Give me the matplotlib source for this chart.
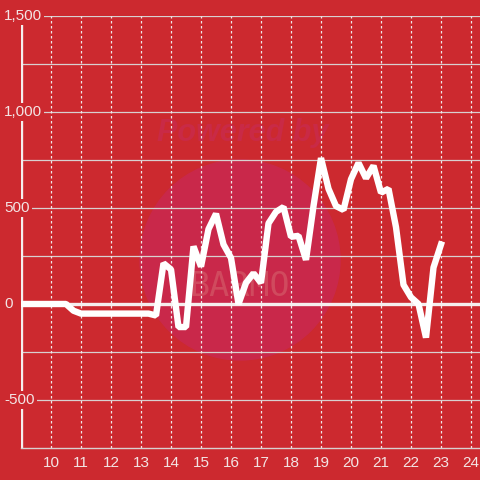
import matplotlib
matplotlib.use("Agg")
import matplotlib.pyplot as plt
import matplotlib.transforms as mtransforms
import numpy as np

# hour of day and value
hours = [9.0, 9.25, 9.5, 9.75, 10.0, 10.25, 10.5, 10.75, 11.0, 11.25, 11.5, 11.75,
         12.0, 12.25, 12.5, 12.75, 13.0, 13.25, 13.5, 13.75, 14.0, 14.25, 14.5, 14.75,
         15.0, 15.25, 15.5, 15.75, 16.0, 16.25, 16.5, 16.75, 17.0, 17.25, 17.5, 17.75,
         18.0, 18.25, 18.5, 18.75, 19.0, 19.25, 19.5, 19.75, 20.0, 20.25, 20.5, 20.75,
         21.0, 21.25, 21.5, 21.75, 22.0, 22.25, 22.5, 22.75, 23.0]
values = [0, 0, 0, 0, 0, 0, 0, -35, -50, -50, -50, -50,
          -50, -50, -50, -50, -50, -50, -60, 212, 180, -120, -120, 300,
          195, 390, 470, 310, 240, 0, 110, 160, 110, 420, 480, 505,
          350, 355, 230, 510, 760, 600, 510, 490, 650, 735, 655, 720,
          580, 600, 400, 100, 35, 0, -175, 190, 310]

x_ticks = list(range(10, 25))
y_labels = [1500, 1000, 500, 0, -500]
y_grid = np.arange(-500, 1501, 250)

bg = "#cc292f"
txt = "#f3e4e4"
grid = "#d8d0d0"

fig = plt.figure(figsize=(4.8, 4.8), dpi=100, facecolor=bg)
ax = fig.add_axes([21 / 480, 32 / 480, 459 / 480, 432 / 480], facecolor=bg)
ax.set_xlim(9, 24.3)
ax.set_ylim(-750, 1500)

# watermark (under everything in the axes)
circ = plt.Circle((240 / 480, 1 - 260 / 480), 100 / 480, transform=fig.transFigure,
                  color="#c9284a", zorder=0.5, clip_on=False)
ax.add_patch(circ)
ax.text(243 / 480, 1 - 133 / 480, "Powered by", transform=fig.transFigure,
        ha="center", va="center", fontsize=22, fontweight="bold", style="italic",
        color="#c92a46", family="Liberation Sans", zorder=0.5)
ax.text(240 / 480, 1 - 287 / 480, "BARMO", transform=fig.transFigure,
        ha="center", va="center", fontsize=24, color="#d04a5e",
        family="DejaVu Sans Mono", zorder=0.6)

for s in ["top", "right", "left"]:
    ax.spines[s].set_visible(False)
ax.spines["bottom"].set_color(grid)
ax.spines["bottom"].set_linewidth(1)

for gy in y_grid:
    ax.axhline(gy, color=grid, lw=0.9, zorder=1)
for gx in x_ticks:
    ax.axvline(gx, color="#f0e8e8", lw=0.9, ls=(0, (2, 2)), zorder=1)
ax.axhline(0, color="#f5eeee", lw=2.4, zorder=2)
ax.axvline(9, color="#f5eeee", lw=2.4, zorder=2)

ax.plot(hours, values, color="white", lw=4.6, zorder=3, solid_joinstyle="bevel")

ax.set_xticks(x_ticks)
ax.set_xticklabels([str(t) for t in x_ticks], color=txt, fontsize=11,
                   family="Liberation Sans")
ax.tick_params(axis="x", length=0, pad=6)
ax.set_yticks([])

trans = mtransforms.blended_transform_factory(fig.transFigure, ax.transData)
for v in y_labels:
    ax.text(4 / 480, v, f"{v:,}", transform=trans, ha="left", va="center",
            color=txt, fontsize=11, family="Liberation Sans", zorder=5,
            bbox=dict(facecolor=bg, edgecolor="none", pad=1.5), clip_on=False)

fig.savefig("out.png", dpi=100, facecolor=bg)
